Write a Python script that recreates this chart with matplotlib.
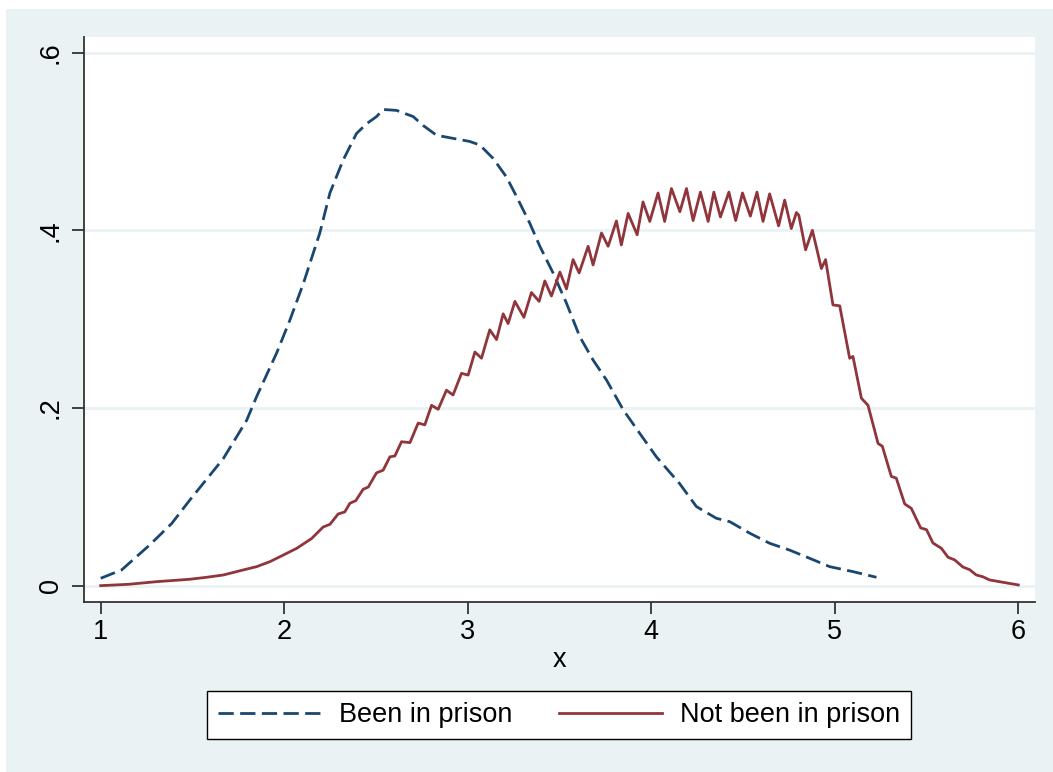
import numpy as np
import matplotlib.pyplot as plt
from matplotlib.patches import Rectangle

plt.rcParams['font.family'] = ['Liberation Sans', 'DejaVu Sans']

# kernel density estimates, evaluated on the x grid
x_prison = [1.000, 1.114, 1.268, 1.387, 1.486, 1.668, 1.795, 1.850, 1.959, 2.031,
            2.104, 2.194, 2.249, 2.321, 2.394, 2.449, 2.503, 2.539, 2.612, 2.703,
            2.757, 2.830, 2.920, 3.011, 3.066, 3.138, 3.211, 3.266, 3.338, 3.393,
            3.465, 3.538, 3.611, 3.683, 3.756, 3.847, 3.937, 4.028, 4.154, 4.246,
            4.355, 4.428, 4.537, 4.645, 4.754, 4.863, 4.972, 5.099, 5.227]
d_prison = [0.0083, 0.0177, 0.046, 0.070, 0.0965, 0.143, 0.186, 0.213, 0.262, 0.299,
            0.340, 0.397, 0.442, 0.479, 0.509, 0.520, 0.528, 0.536, 0.535, 0.528,
            0.518, 0.507, 0.5035, 0.500, 0.496, 0.481, 0.460, 0.438, 0.408, 0.382,
            0.352, 0.318, 0.280, 0.254, 0.2315, 0.198, 0.1715, 0.145, 0.115, 0.089,
            0.0758, 0.072, 0.059, 0.0477, 0.040, 0.0308, 0.0214, 0.0158, 0.0094]

x_free = [1.000, 1.150, 1.305, 1.486, 1.580, 1.668, 1.777, 1.850, 1.922, 1.977,
          2.068, 2.149, 2.212, 2.249, 2.294, 2.330, 2.358, 2.390, 2.430, 2.458,
          2.503, 2.539, 2.576, 2.603, 2.639, 2.685, 2.730, 2.766, 2.803, 2.839,
          2.884, 2.920, 2.966, 3.002, 3.039, 3.075, 3.120, 3.157, 3.193, 3.220,
          3.257, 3.306, 3.347, 3.389, 3.420, 3.456, 3.502, 3.538, 3.574, 3.607,
          3.656, 3.683, 3.729, 3.765, 3.810, 3.837, 3.874, 3.923, 3.955, 3.992,
          4.037, 4.073, 4.110, 4.156, 4.192, 4.228, 4.268, 4.310, 4.341, 4.377,
          4.423, 4.460, 4.497, 4.540, 4.576, 4.609, 4.645, 4.694, 4.727, 4.763,
          4.791, 4.804, 4.841, 4.878, 4.927, 4.950, 4.990, 5.027, 5.081, 5.099,
          5.145, 5.181, 5.236, 5.259, 5.308, 5.335, 5.381, 5.417, 5.468, 5.500,
          5.535, 5.581, 5.617, 5.653, 5.698, 5.735, 5.771, 5.807, 5.844, 5.916,
          6.000]
d_free = [0.000, 0.0015, 0.0045, 0.0072, 0.0095, 0.012, 0.0177, 0.0214, 0.027, 0.0326,
          0.042, 0.053, 0.066, 0.069, 0.0807, 0.083, 0.0927, 0.0957, 0.1085, 0.111,
          0.127, 0.130, 0.145, 0.146, 0.162, 0.161, 0.183, 0.181, 0.203, 0.1985,
          0.220, 0.2146, 0.239, 0.237, 0.263, 0.256, 0.288, 0.277, 0.306, 0.295,
          0.320, 0.302, 0.330, 0.320, 0.343, 0.326, 0.353, 0.334, 0.367, 0.352,
          0.382, 0.361, 0.397, 0.382, 0.4105, 0.3835, 0.419, 0.395, 0.432, 0.410,
          0.442, 0.410, 0.447, 0.421, 0.447, 0.411, 0.443, 0.410, 0.443, 0.415,
          0.443, 0.411, 0.442, 0.416, 0.443, 0.410, 0.441, 0.405, 0.434, 0.402,
          0.420, 0.417, 0.378, 0.400, 0.357, 0.367, 0.316, 0.315, 0.256, 0.258,
          0.211, 0.203, 0.160, 0.157, 0.123, 0.121, 0.092, 0.087, 0.065, 0.063,
          0.048, 0.042, 0.032, 0.029, 0.021, 0.018, 0.012, 0.010, 0.0064, 0.0038,
          0.0008]

xticks = [1, 2, 3, 4, 5, 6]
yticks = [0, 0.2, 0.4, 0.6]
ylabels = ['0', '.2', '.4', '.6']

bg = '#EAF2F3'
navy = '#1A476F'
maroon = '#90353B'
axcol = '#333333'
fs = 19.5

fig = plt.figure(figsize=(10.53, 7.72), dpi=100, facecolor='white')
fig.patches.append(Rectangle((6 / 1053, 0), 1, 1 - 9 / 772, transform=fig.transFigure,
                             facecolor=bg, edgecolor='none', zorder=-10))
ax = fig.add_axes([84 / 1053, 1 - 602 / 772, (1035 - 84) / 1053, (602 - 37) / 772])
ax.set_facecolor('white')

for y in yticks:
    ax.axhline(y, color=bg, lw=2, zorder=0)

ax.plot(x_prison, d_prison, color=navy, lw=2.0, dashes=(5.5, 2.3), label='Been in prison')
ax.plot(x_free, d_free, color=maroon, lw=2.0, label='Not been in prison')

ax.set_xlim(0.909, 6.091)
ax.set_ylim(-0.0184, 0.6176)
ax.set_xticks(xticks)
ax.set_yticks(yticks)
ax.set_yticklabels(ylabels, rotation=90, va='center')
ax.tick_params(axis='both', labelsize=fs, length=8.5, width=1.3, color=axcol,
               labelcolor='black')
ax.tick_params(axis='y', pad=6)
ax.tick_params(axis='x', pad=4)
for s in ['top', 'right']:
    ax.spines[s].set_visible(False)
for s in ['left', 'bottom']:
    ax.spines[s].set_color(axcol)
    ax.spines[s].set_linewidth(1.3)
ax.set_xlabel('x', fontsize=fs, labelpad=1)

leg = fig.legend(loc='center', bbox_to_anchor=(559 / 1053, 1 - 715 / 772), ncol=2,
                 fontsize=fs, frameon=True, fancybox=False, handlelength=3.8,
                 handletextpad=0.65, columnspacing=1.75, borderpad=0.4,
                 borderaxespad=0, framealpha=1)
leg.get_frame().set_facecolor('white')
leg.get_frame().set_edgecolor('black')
leg.get_frame().set_linewidth(1.0)

fig.savefig('out.png', dpi=100, facecolor=fig.get_facecolor())
